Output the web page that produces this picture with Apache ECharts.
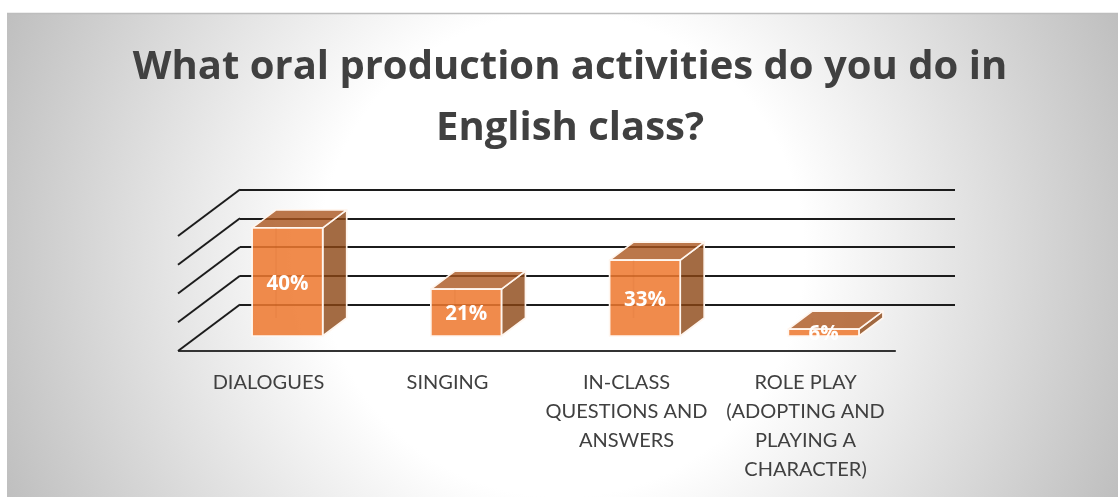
<!DOCTYPE html>
<html><head><meta charset="utf-8">
<style>html,body{margin:0;padding:0;background:#fff}#c{width:1118px;height:497px}</style>
<script src="https://cdn.jsdelivr.net/npm/echarts@6/dist/echarts.min.js"></script>
</head><body><div id="c"></div>
<script>
const titleText = "What oral production activities do you do in\nEnglish class?";
const categories = ["DIALOGUES", "SINGING", "IN-CLASS\nQUESTIONS AND\nANSWERS", "ROLE PLAY\n(ADOPTING AND\nPLAYING A\nCHARACTER)"];
const valueLabels = ["40%", "21%", "33%", "6%"];
// drawn bar heights as read against the gridlines (the original bars are not proportional to their labels)
const barHeights = [37.6, 16.3, 26.4, 2.4];
const gridTicks = [0, 10, 20, 30, 40];

const DEPTH = [-62, 46.5];        // back plane to front plane
const BAR_BACK = 0.29, BAR_FRONT = 0.677; // bar's position along depth
const BAR_WIDTH = 0.395;

const chart = echarts.init(document.getElementById('c'), null, {renderer: 'canvas'});

function renderBar(params, api) {
  const i = api.value(0), h = api.value(1);
  const top = api.coord([i, h]), base = api.coord([i, 0]);
  const bw = api.size([1, 0])[0] * BAR_WIDTH;
  const f = (x, y, t) => [x + DEPTH[0] * t, y + DEPTH[1] * t];
  const xl = top[0] - bw / 2, xr = top[0] + bw / 2;
  const A = f(xl, top[1], BAR_FRONT), B = f(xr, top[1], BAR_FRONT),
        C = f(xr, base[1], BAR_FRONT), D = f(xl, base[1], BAR_FRONT),
        E = f(xl, top[1], BAR_BACK), G = f(xr, top[1], BAR_BACK),
        H = f(xr, base[1], BAR_BACK), K = f(xl, base[1], BAR_BACK);
  const edge = {stroke: '#FFF6EF', lineWidth: 1.7, lineJoin: 'round'};
  const poly = (pts, fill, stroke) => ({type: 'polygon', shape: {points: pts},
    style: Object.assign({fill}, stroke ? edge : {stroke: null})});
  return {type: 'group', children: [
    poly([B, G, H, C], 'rgba(140,70,20,0.8)', true),
    poly([A, E, G, B], 'rgba(170,85,30,0.8)', true),
    poly([A, B, C, D], 'rgba(237,120,47,0.86)', true),
    {type: 'line', shape: {x1: E[0], y1: Math.max(E[1], A[1]), x2: K[0], y2: K[1]},
      style: {stroke: 'rgba(190,90,30,0.1)', lineWidth: 1.5}},
    {type: 'text', style: {text: valueLabels[i], x: (A[0] + B[0]) / 2, y: (A[1] + D[1]) / 2 + 2,
      align: 'center', verticalAlign: 'middle', fill: '#fff',
      font: '700 20.5px "Open Sans"'}}
  ]};
}

function renderWall(params, api) {
  const t = api.value(0);
  const y = api.coord([0, t])[1], x = params.coordSys.x;
  return {type: 'line', shape: {x1: x, y1: y, x2: x + DEPTH[0], y2: y + DEPTH[1]},
    style: {stroke: '#1c1c1c', lineWidth: 2}};
}

chart.setOption({
  animation: false,
  backgroundColor: '#fff',
  title: {text: titleText, left: 565, top: 32, textAlign: 'center',
    textStyle: {fontFamily: '"Open Sans"', fontWeight: 700, fontSize: 40, lineHeight: 61, color: '#404040'}},
  graphic: [{type: 'rect', z: -10, silent: true,
    shape: {x: 7, y: 13, width: 1111, height: 484},
    style: {fill: {type: 'radial', x: 562, y: 255, r: 605, global: true,
      colorStops: [{offset: 0, color: '#fff'}, {offset: 0.4, color: '#fff'}, {offset: 1, color: '#BFBFBF'}]}}},
    {type: 'line', z: -9, silent: true, shape: {x1: 7, y1: 13.5, x2: 1118, y2: 13.5},
      style: {stroke: '#BDBDBD', lineWidth: 1.5}}],
  grid: [
    {left: 240, width: 715, top: 189.5, height: 115},
    {left: 179, width: 716, top: 236, height: 115}
  ],
  xAxis: [
    {gridIndex: 0, type: 'category', data: categories, show: false},
    {gridIndex: 1, type: 'category', data: categories,
      axisLine: {show: true, lineStyle: {color: '#333', width: 2.2}},
      axisTick: {show: false},
      axisLabel: {interval: 0, margin: 17, color: '#404040', fontFamily: 'Lato', fontSize: 20, lineHeight: 29}}
  ],
  yAxis: [
    {gridIndex: 0, type: 'value', min: 0, max: 40, interval: 10,
      axisLine: {show: false}, axisTick: {show: false}, axisLabel: {show: false},
      splitLine: {show: true, lineStyle: {color: '#1c1c1c', width: 2}}},
    {gridIndex: 1, type: 'value', min: 0, max: 40, interval: 10, show: false, splitLine: {show: false}}
  ],
  series: [
    {type: 'custom', xAxisIndex: 0, yAxisIndex: 0, clip: false, z: 3, silent: true,
      data: gridTicks.map(t => [t]), encode: {y: 0}, renderItem: renderWall},
    {type: 'custom', xAxisIndex: 0, yAxisIndex: 0, clip: false, z: 5, silent: true,
      data: barHeights.map((h, i) => [i, h]), encode: {x: 0, y: 1}, renderItem: renderBar}
  ]
});
</script></body></html>
